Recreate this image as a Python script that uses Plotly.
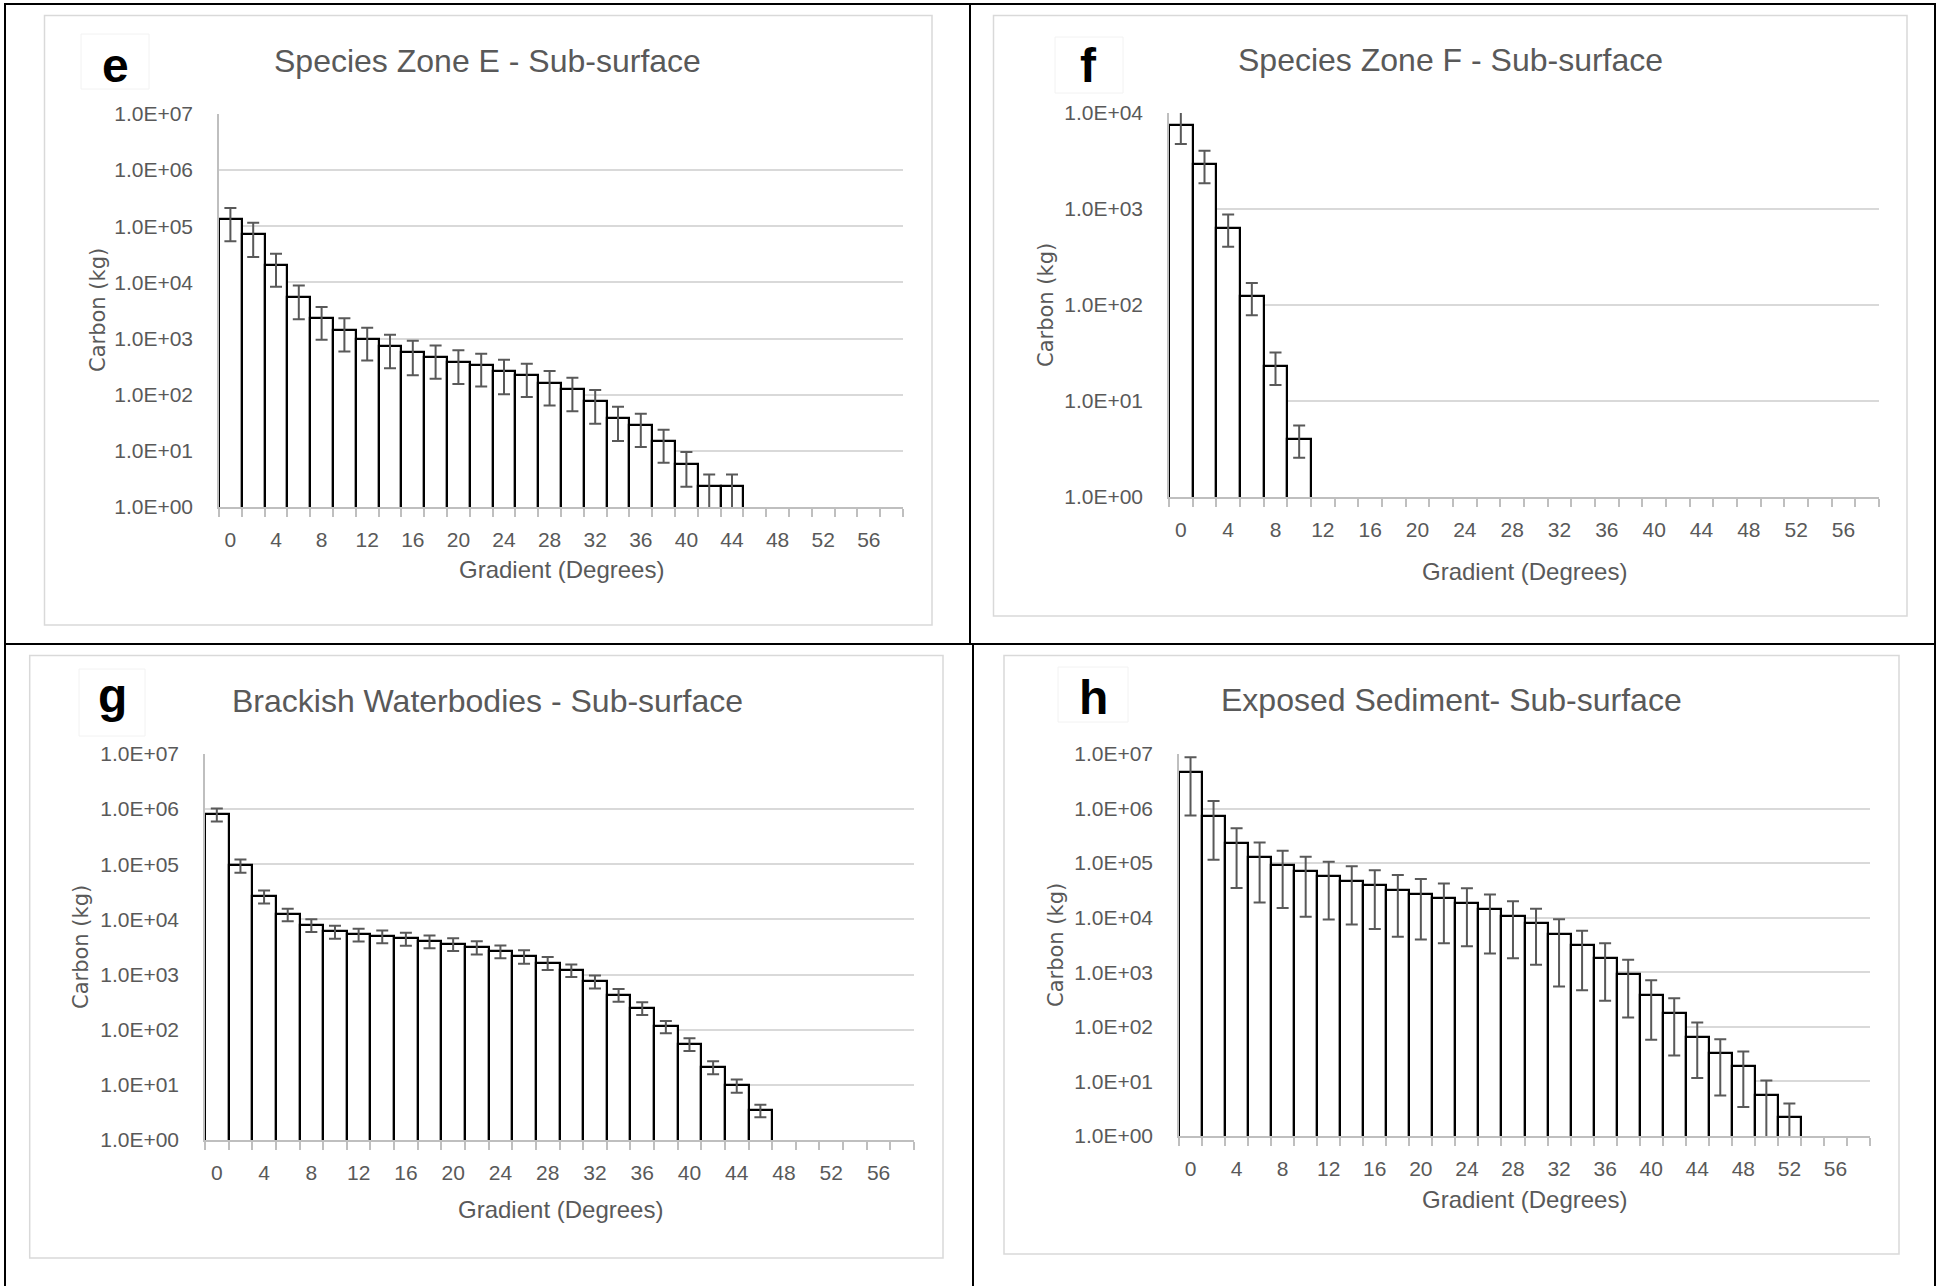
import plotly.graph_objects as go

W, H = 1941, 1286

# ---------------- data ----------------
gradient = list(range(0, 60, 2))          # category positions (degrees)
x_ticks = list(range(0, 57, 4))

e_title = "Species Zone E - Sub-surface"
e_vals = [1.33e5, 7.2e4, 2.04e4, 5.5e3, 2.3e3, 1.45e3, 980, 730, 570, 471,
          388, 339, 261, 224, 164, 126, 76, 38, 28.7, 14.9, 5.9, 2.34, 2.34]
e_err = [7.9e4, 4.35e4, 1.2e4, 3.3e3, 1.35e3, 860, 575, 435, 348, 278,
         233, 199, 159, 133, 100, 75, 45.5, 23, 17, 8.75, 3.6, 1.46, 1.46]

f_title = "Species Zone F - Sub-surface"
f_vals = [7.56e3, 2.95e3, 641, 124, 23.4, 4.06]
f_err = [2.8e3, 1.1e3, 237, 46, 8.7, 1.5]

g_title = "Brackish Waterbodies - Sub-surface"
g_vals = [8.1e5, 9.6e4, 2.64e4, 1.25e4, 8.0e3, 6.07e3, 5.36e3, 5.0e3, 4.54e3, 4.06e3,
          3.63e3, 3.16e3, 2.68e3, 2.17e3, 1.65e3, 1.21e3, 759, 435, 250, 115,
          55.8, 21.1, 9.87, 3.48]
g_err = [2.15e5, 2.6e4, 6.9e3, 3.2e3, 2.1e3, 1.6e3, 1.4e3, 1.3e3, 1.2e3, 1.05e3,
         950, 860, 700, 600, 440, 310, 200, 115, 66, 29,
         14.5, 5.6, 2.65, 0.9]

h_title = "Exposed Sediment- Sub-surface"
h_vals = [4.75e6, 7.45e5, 2.35e5, 1.29e5, 9.2e4, 7.04e4, 5.78e4, 4.75e4, 4.02e4, 3.25e4,
          2.75e4, 2.29e4, 1.88e4, 1.44e4, 1.09e4, 7.98e3, 4.95e3, 3.12e3, 1.85e3, 919,
          385, 183, 65.6, 32.5, 19.4, 5.62, 2.19]
h_err = [4.0e6, 6.3e5, 2.0e5, 1.1e5, 7.7e4, 6.0e4, 4.85e4, 4.0e4, 3.4e4, 2.8e4,
         2.35e4, 1.95e4, 1.58e4, 1.22e4, 9.1e3, 6.6e3, 4.4e3, 2.65e3, 1.55e3, 770,
         327, 153, 54, 27, 16, 4.8, 1.77]

x_label = "Gradient (Degrees)"
y_label = "Carbon (kg)"

# ---------------- layout geometry (pixels) ----------------
panels = [
    dict(letter="e", title=e_title, vals=e_vals, err=e_err, top_exp=7,
         plot=(219, 114, 903, 507), box=(44.5, 15.6, 932, 625),
         lbox=(81, 34, 149, 89), lpos=(115, 66), tpos=(487.5, 61),
         ylab=(98, 310), xlab=(561, 569)),
    dict(letter="f", title=f_title, vals=f_vals, err=f_err, top_exp=4,
         plot=(1169, 113, 1879, 497), box=(993.5, 15.6, 1907, 616),
         lbox=(1055, 37, 1123, 93), lpos=(1088, 66), tpos=(1450, 60),
         ylab=(1046, 305), xlab=(1524, 571)),
    dict(letter="g", title=g_title, vals=g_vals, err=g_err, top_exp=7,
         plot=(205, 754, 914, 1140), box=(29.7, 655.6, 943, 1258),
         lbox=(79, 669, 145, 736), lpos=(112, 695), tpos=(487, 701),
         ylab=(81, 947), xlab=(560, 1209)),
    dict(letter="h", title=h_title, vals=h_vals, err=h_err, top_exp=7,
         plot=(1179, 754, 1870, 1136), box=(1004, 655.6, 1899, 1254),
         lbox=(1058, 667, 1128, 722), lpos=(1093, 697), tpos=(1451, 700),
         ylab=(1056, 945), xlab=(1524, 1199)),
]


def px(x):
    return x / W


def py(y):
    return 1 - y / H


GRAY_TXT = "#595959"
FONT = "Liberation Sans, Arial, sans-serif"

fig = go.Figure()
shapes = []
annotations = []

for i, p in enumerate(panels):
    n = i + 1
    xa = "x" if n == 1 else f"x{n}"
    ya = "y" if n == 1 else f"y{n}"
    vals = p["vals"] + [None] * (len(gradient) - len(p["vals"]))
    errs = p["err"] + [None] * (len(gradient) - len(p["err"]))
    fig.add_trace(go.Bar(
        x=gradient, y=vals, width=2,
        marker=dict(color="white", line=dict(color="black", width=2.2)),
        error_y=dict(type="data", array=errs, symmetric=True, visible=True,
                     color="#595959", thickness=2, width=6),
        xaxis=xa, yaxis=ya, showlegend=False,
    ))
    x0, y0, x1, y1 = p["plot"]
    xkey = "xaxis" if n == 1 else f"xaxis{n}"
    ykey = "yaxis" if n == 1 else f"yaxis{n}"
    exps = list(range(0, p["top_exp"] + 1))
    fig.update_layout(**{
        xkey: dict(domain=[px(x0), px(x1)], anchor=ya, range=[-1, 59],
                   automargin=False,
                   tickmode="array", tickvals=x_ticks,
                   ticktext=[str(t) for t in x_ticks],
                   ticks="", showgrid=False, zeroline=False,
                   showline=True, linecolor="#bfbfbf", linewidth=1.5,
                   tickfont=dict(family=FONT, size=21, color=GRAY_TXT),
                   ticklabelstandoff=13,
                   minor=dict(tickmode="linear", tick0=-1, dtick=2,
                              ticks="outside", ticklen=8, tickwidth=1.5,
                              tickcolor="#bfbfbf", showgrid=False)),
        ykey: dict(domain=[py(y1), py(y0)], anchor=xa, type="log",
                   range=[0, p["top_exp"]], automargin=False,
                   tickmode="array", tickvals=[10 ** k for k in exps],
                   ticktext=[f"1.0E+{k:02d}" for k in exps],
                   ticks="", showgrid=True, gridcolor="#d9d9d9", gridwidth=1.5,
                   zeroline=False, showline=True, linecolor="#bfbfbf",
                   linewidth=1.5,
                   tickfont=dict(family=FONT, size=21, color=GRAY_TXT),
                   ticklabelstandoff=20),
    })
    # chart-area box
    bx0, by0, bx1, by1 = p["box"]
    shapes.append(dict(type="rect", xref="paper", yref="paper",
                       x0=px(bx0), x1=px(bx1), y0=py(by1), y1=py(by0),
                       line=dict(color="#d9d9d9", width=1.5), layer="below"))
    # letter box
    lx0, ly0, lx1, ly1 = p["lbox"]
    shapes.append(dict(type="rect", xref="paper", yref="paper",
                       x0=px(lx0), x1=px(lx1), y0=py(ly1), y1=py(ly0),
                       fillcolor="white", line=dict(color="#f2f2f2", width=1),
                       layer="below"))
    annotations.append(dict(text=p["letter"], x=px(p["lpos"][0]), y=py(p["lpos"][1]),
                            xref="paper", yref="paper", showarrow=False,
                            xanchor="center", yanchor="middle",
                            font=dict(family=FONT, size=48, color="black", weight="bold")))
    annotations.append(dict(text=p["title"], x=px(p["tpos"][0]), y=py(p["tpos"][1]),
                            xref="paper", yref="paper", showarrow=False,
                            xanchor="center", yanchor="middle",
                            font=dict(family=FONT, size=32, color=GRAY_TXT)))
    annotations.append(dict(text=y_label, x=px(p["ylab"][0]), y=py(p["ylab"][1]),
                            xref="paper", yref="paper", showarrow=False,
                            xanchor="center", yanchor="middle", textangle=-90,
                            font=dict(family="DejaVu Sans", size=21, color=GRAY_TXT)))
    annotations.append(dict(text=x_label, x=px(p["xlab"][0]), y=py(p["xlab"][1]),
                            xref="paper", yref="paper", showarrow=False,
                            xanchor="center", yanchor="middle",
                            font=dict(family=FONT, size=24, color=GRAY_TXT)))

# black cell frame lines
def hline(y, xa0, xa1):
    shapes.append(dict(type="line", xref="paper", yref="paper",
                       x0=px(xa0), x1=px(xa1), y0=py(y), y1=py(y),
                       line=dict(color="black", width=2)))


def vline(x, ya0, ya1):
    shapes.append(dict(type="line", xref="paper", yref="paper",
                       x0=px(x), x1=px(x), y0=py(ya0), y1=py(ya1),
                       line=dict(color="black", width=2)))


hline(4, 4, 1936)
hline(644, 4, 1936)
vline(5, 4, 1286)
vline(1935, 4, 1286)
vline(970, 4, 644)
vline(973, 644, 1286)

fig.update_layout(template="none", width=W, height=H,
                  margin=dict(l=0, r=0, t=0, b=0, pad=0, autoexpand=False),
                  paper_bgcolor="white", plot_bgcolor="white",
                  barmode="overlay", bargap=0,
                  shapes=shapes, annotations=annotations)

fig.write_html(
    "out.html",
    config={"displayModeBar": False},
    post_script="document.body.style.margin='0';document.body.style.padding='0';"
                "document.documentElement.style.overflow='hidden';",
)
